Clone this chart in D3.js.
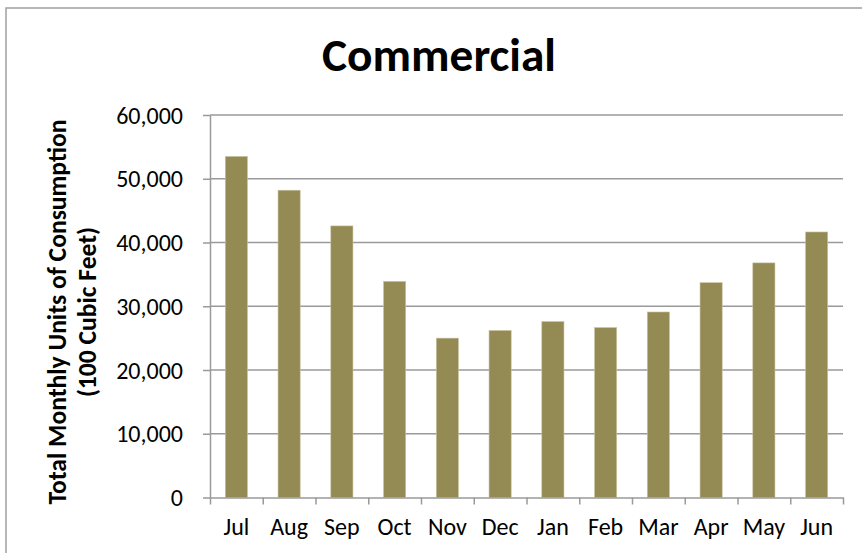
<!DOCTYPE html>
<html>
<meta charset="utf-8">
<title>Commercial</title>
<style>
body { margin: 0; background: #fff; }
text { font-family: Carlito, "Liberation Sans", Arial, sans-serif; fill: #000; }
.axis path, .axis line { stroke: #9a9a9a; stroke-width: 1.5px; }
.grid line { stroke: #9a9a9a; stroke-width: 1.5px; }
.bar { fill: #948a54; stroke: #c9c3a0; stroke-width: 0.6px; }
</style>
<script src="https://d3js.org/d3.v7.min.js"></script>
<body>
<script>
const months = ["Jul", "Aug", "Sep", "Oct", "Nov", "Dec", "Jan", "Feb", "Mar", "Apr", "May", "Jun"];
const consumption = [53500, 48200, 42600, 33900, 25000, 26200, 27600, 26650, 29100, 33700, 36800, 41650];
const yTicks = [0, 10000, 20000, 30000, 40000, 50000, 60000];

const width = 862, height = 553;
const plot = {left: 210, right: 843, top: 115, bottom: 497.5};

// shrink/grow a text's font so its length comes out at the wanted size
function fitText(sel, target) {
  const node = sel.node();
  const size = parseFloat(sel.style("font-size"));
  const len = node.getComputedTextLength();
  if (len > 0) sel.style("font-size", (size * target / len).toFixed(2) + "px");
}

const svg = d3.select("body").append("svg")
    .attr("width", width)
    .attr("height", height);

// chart frame (only top and left edges fall inside the picture)
svg.append("rect")
    .attr("x", 6).attr("y", 8)
    .attr("width", width + 10).attr("height", height + 10)
    .attr("fill", "none")
    .attr("stroke", "#a0a0a0")
    .attr("stroke-width", 1.5);

const x = d3.scaleBand()
    .domain(months)
    .range([plot.left, plot.right])
    .paddingInner(0.58)
    .paddingOuter(0.29);

const y = d3.scaleLinear()
    .domain([0, 60000])
    .range([plot.bottom, plot.top]);

// gridlines
svg.append("g")
    .attr("class", "grid")
  .selectAll("line")
  .data(yTicks.filter(d => d > 0))
  .join("line")
    .attr("x1", plot.left).attr("x2", plot.right)
    .attr("y1", d => y(d)).attr("y2", d => y(d));

// bars
svg.append("g")
  .selectAll("rect")
  .data(months)
  .join("rect")
    .attr("class", "bar")
    .attr("x", d => x(d))
    .attr("width", x.bandwidth())
    .attr("y", (d, i) => y(consumption[i]))
    .attr("height", (d, i) => y(0) - y(consumption[i]));

// y axis
const yAxis = svg.append("g")
    .attr("class", "axis")
    .attr("transform", `translate(${plot.left},0)`)
    .call(d3.axisLeft(y).tickValues(yTicks).tickSize(7).tickSizeOuter(0).tickPadding(20).tickFormat(d3.format(",")));
yAxis.selectAll("text").style("font-size", "24px").attr("dy", "0.34em");

// x axis: ticks at category boundaries
const xEdges = d3.scaleLinear().domain([0, months.length]).range([plot.left, plot.right]);
svg.append("g")
    .attr("class", "axis")
    .attr("transform", `translate(0,${plot.bottom})`)
    .call(d3.axisBottom(xEdges).tickValues(d3.range(months.length + 1)).tickSize(7).tickSizeOuter(0).tickFormat(""));

svg.append("g")
  .selectAll("text")
  .data(months)
  .join("text")
    .attr("x", d => x(d) + x.bandwidth() / 2)
    .attr("y", 535)
    .attr("text-anchor", "middle")
    .style("font-size", "24px")
    .text(d => d);

// title
const title = svg.append("text")
    .attr("x", 439)
    .attr("y", 71)
    .attr("text-anchor", "middle")
    .style("font-size", "46px")
    .style("font-weight", "bold")
    .text("Commercial");
fitText(title, 234);

// y axis title, two lines
const yTitle = svg.append("g")
    .attr("transform", "translate(66,312) rotate(-90)");
const line1 = yTitle.append("text")
    .attr("text-anchor", "middle")
    .style("font-size", "24px")
    .style("font-weight", "bold")
    .text("Total Monthly Units of Consumption");
fitText(line1, 385);
const line2 = yTitle.append("text")
    .attr("y", 30)
    .attr("text-anchor", "middle")
    .style("font-size", line1.style("font-size"))
    .style("font-weight", "bold")
    .text("(100 Cubic Feet)");
</script>
</body>
</html>
